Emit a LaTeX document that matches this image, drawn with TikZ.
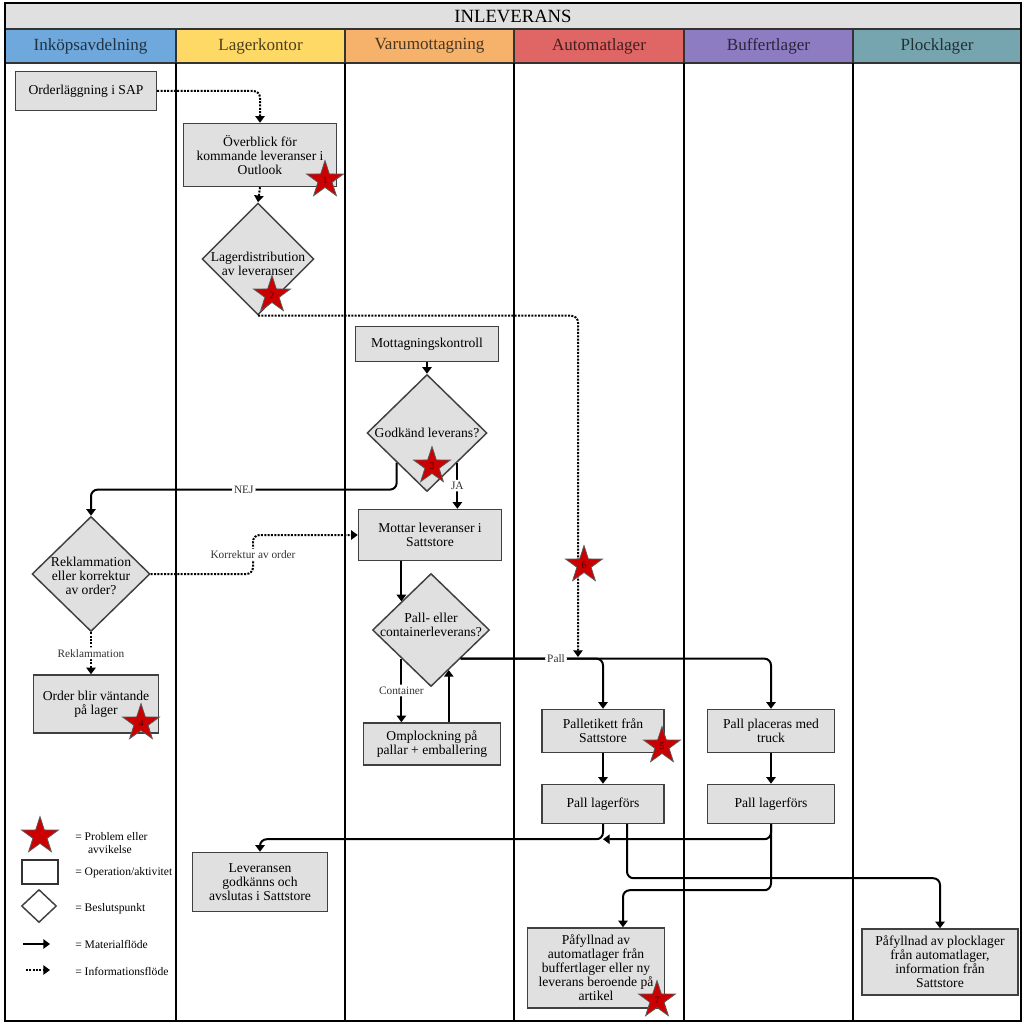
\documentclass[tikz,border=0pt]{standalone}
\usepackage{fontspec}
\setmainfont{Liberation Serif}
\usetikzlibrary{shapes.geometric,arrows.meta,calc}
\definecolor{inkop}{HTML}{6FA8DC}
\definecolor{lagerk}{HTML}{FFD966}
\definecolor{varum}{HTML}{F6B26B}
\definecolor{autom}{HTML}{E06666}
\definecolor{buffert}{HTML}{8E7CC3}
\definecolor{plock}{HTML}{76A5AF}
\definecolor{boxgray}{HTML}{E0E0E0}
\definecolor{probred}{HTML}{CC0000}
\tikzset{
  wh/.style 2 args={minimum width=#1*0.75pt, minimum height=#2*0.75pt},
  box/.style={draw=black!75, fill=boxgray, line width=1.1pt, align=center, inner sep=0pt, font=\fontsize{10.2}{10.5}\selectfont},
  beslut/.style={diamond, draw=black!75, fill=boxgray, line width=1.1pt, inner sep=0pt},
  btext/.style={align=center, inner sep=0pt, font=\fontsize{10.2}{10.5}\selectfont},
  prob/.style={star, star points=5, star point ratio=2.6, fill=probred, draw=black!65, line width=0.6pt, minimum size=29pt, inner sep=0pt, font=\fontsize{7.5}{7.5}\selectfont, text=black!75!red},
  mat/.style={line width=1.5pt, rounded corners=5pt, -{Triangle[width=7pt,length=5pt]}},
  info/.style={mat, densely dotted},
  lab/.style={fill=white, inner sep=1.5pt, font=\fontsize{8.5}{9}\selectfont, text=black!80},
  leg/.style={anchor=west, align=left, inner sep=0pt, font=\fontsize{8.7}{9.5}\selectfont}
}
\begin{document}
\begin{tikzpicture}[x=0.75pt,y=-0.75pt]
\useasboundingbox (0,0) rectangle (1024,1024);
\draw[fill=boxgray, draw=black!80, line width=1.1pt] (5,3) rectangle (1021,29);
\node[font=\fontsize{14}{14}\selectfont] at (513,16) {INLEVERANS};
\foreach \xa/\xb/\c/\t in {5/176/inkop/Inköpsavdelning, 176/345/lagerk/Lagerkontor, 345/514/varum/Varumottagning, 514/684/autom/Automatlager, 684/853/buffert/Buffertlager, 853/1021/plock/Plocklager}{
  \draw[fill=\c, draw=black!80, line width=1.1pt] (\xa,29) rectangle (\xb,63);
  \node[text=\c!30!black, font=\fontsize{12.8}{13}\selectfont] at ({(\xa+\xb)/2},46) {\t};
}
\foreach \xa in {176,345,514,684,853}
  \draw[line width=1.5pt] (\xa,63) -- (\xa,1021);
\draw[line width=1.5pt] (5,3) rectangle (1021,1021);

\node[box, wh={141}{39}] (ordr) at (86,91) {Orderläggning i SAP};
\node[box, wh={153}{63}] (overb) at (260,155) {Överblick för\\kommande leveranser i\\Outlook};
\node[beslut, wh={112}{112}] (distr) at (258,259) {};
\node[btext] at (258,264) {Lagerdistribution\\av leveranser};
\node[box, wh={143}{35}] (motkon) at (427,344) {Mottagningskontroll};
\node[beslut, wh={120}{117}] (godk) at (427,433) {};
\node[btext] at (427,433) {Godkänd leverans?};
\node[box, wh={143}{51}] (mottar) at (430,535) {Mottar leveranser i\\Sattstore};
\node[beslut, wh={118}{115}] (rekl) at (91,574) {};
\node[btext] at (91,576) {Reklammation\\eller korrektur\\av order?};
\node[box, wh={125}{58}] (order) at (96,704) {Order blir väntande\\på lager};
\node[beslut, wh={117}{113}] (pallcont) at (431,630) {};
\node[btext] at (431,625) {Pall- eller\\containerleverans?};
\node[box, wh={137}{42}] (ompl) at (432,744) {Omplockning på\\pallar + emballering};
\node[box, wh={122}{43}] (palet) at (603,731) {Palletikett från\\Sattstore};
\node[box, wh={127}{43}] (pplac) at (771,731) {Pall placeras med\\truck};
\node[box, wh={122}{39}] (plagA) at (603,804) {Pall lagerförs};
\node[box, wh={127}{39}] (plagB) at (771,804) {Pall lagerförs};
\node[box, wh={135}{59}] (lever) at (260,882) {Leveransen\\godkänns och\\avslutas i Sattstore};
\node[box, wh={137}{80}] (pafA) at (596,968) {Påfyllnad av\\automatlager från\\buffertlager eller ny\\leverans beroende på\\artikel};
\node[box, wh={156}{66}] (pafP) at (940,962) {Påfyllnad av plocklager\\från automatlager,\\information från\\Sattstore};

\coordinate (pallin) at (578,657);
\coordinate (upin) at ($(pallcont.south)!0.3!(pallcont.east)$);
\coordinate (join) at ($(plagA.south)+(0,15)$);

\draw[info] (ordr.east) -| (overb.north);
\draw[info] (overb.south) -- (distr.north);
\draw[mat] (motkon.south) -- (godk.north);
\draw[mat] (godk.south west) -- ++(0,27) -| node[lab, pos=0.25] {NEJ} (rekl.north);
\draw[mat] (godk.south east) -- node[lab] {JA} (godk.south east |- mottar.north);
\draw[info] (rekl.east) -- (253,574) |- node[lab, pos=0.25] {Korrektur av order} (mottar.west);
\draw[info] (rekl.south) -- node[lab] {Reklammation} (rekl.south |- order.north);
\draw[mat] (pallcont.north west |- mottar.south) -- (pallcont.north west);
\draw[mat] (pallcont.south west) -- node[lab] {Container} (pallcont.south west |- ompl.north);
\draw[mat] (upin |- ompl.north) -- (upin);
\draw[mat] (pallcont.south east) -| (pplac.north);
\draw[mat] (pallcont.south east) -| node[lab, pos=0.335] {Pall} (palet.north);
\draw[info] (distr.south) -| (pallin);
\draw[mat] (palet.south) -- (plagA.north);
\draw[mat] (pplac.south) -- (plagB.north);
\draw[mat] (plagA.south) -- (join) -| (lever.north);
\draw[mat] (plagB.south) |- (join);
\draw[mat] ($(plagA.south)+(24,0)$) -- ++(0,54) -| (pafP.north);
\draw[mat] (plagB.south) -- ++(0,66) -| ($(pafA.north)+(27,0)$);

\node[prob] (s1) at (325,180) {1};
\node[prob] (s2) at (272,295) {2};
\node[prob] (s3) at (432,466) {3};
\node[prob] (s4) at (141,723) {4};
\node[prob] (s5) at (662,746) {5};
\node[prob] (s6) at (584,565) {6};
\node[prob] (s7) at (657,1000) {7};

\node[prob] (lstar) at (40,836) {};
\node[leg] at (75,843) {= Problem eller\\\hspace{1.1em}avvikelse};
\draw[draw=black!80, line width=1.1pt] (22,860) rectangle (58,884);
\node[leg] at (75,873) {= Operation/aktivitet};
\node[beslut, fill=white, wh={35}{33}] (ldia) at (39,906) {};
\node[leg] at (75,909) {= Beslutspunkt};
\draw[mat] (23,944) -- (50,944);
\node[leg] at (75,944) {= Materialflöde};
\draw[info] (26,970) -- (50,970);
\node[leg] at (75,971) {= Informationsflöde};
\end{tikzpicture}
\end{document}
